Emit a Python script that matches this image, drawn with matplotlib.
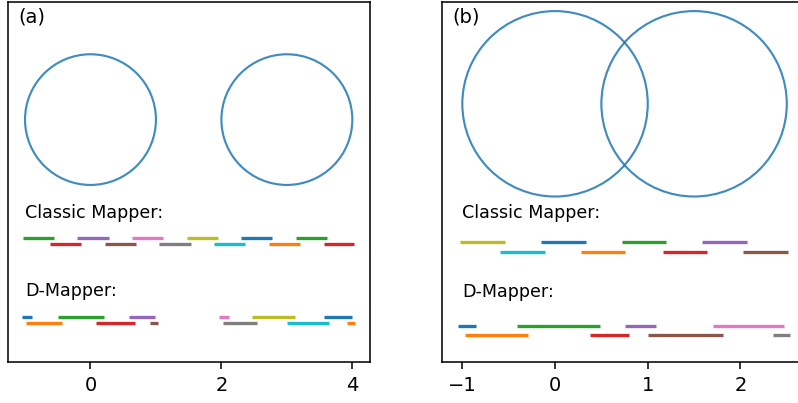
import matplotlib
matplotlib.use("Agg")
import matplotlib.pyplot as plt
from matplotlib.patches import Circle

# --- panel (a): two disjoint circles
a_centers = [(0.0, 0.0), (3.0, 0.0)]
a_radius = 1.0
a_classic_top = [(-1.03, -0.56), (-0.20, 0.28), (0.63, 1.11), (1.47, 1.95), (2.30, 2.78), (3.14, 3.61)]
a_classic_bot = [(-0.62, -0.14), (0.22, 0.70), (1.05, 1.53), (1.88, 2.36), (2.72, 3.20), (3.56, 4.03)]
a_classic_top_c = ["C2", "C4", "C6", "C8", "C0", "C2"]
a_classic_bot_c = ["C3", "C5", "C7", "C9", "C1", "C3"]
a_dm_top = [(-1.05, -0.89), (-0.49, 0.21), (0.59, 0.99), (1.96, 2.11), (2.46, 3.13), (3.56, 4.00)]
a_dm_bot = [(-0.98, -0.43), (0.09, 0.68), (0.91, 1.03), (2.03, 2.54), (3.00, 3.65), (3.92, 4.04)]
a_dm_top_c = ["C0", "C2", "C4", "C6", "C8", "C0"]
a_dm_bot_c = ["C1", "C3", "C5", "C7", "C9", "C1"]
a_rows = [-1.81, -1.91, -3.02, -3.12]
a_labels_y = [-1.43, -2.62]

# --- panel (b): two overlapping circles
b_centers = [(0.0, 0.0), (1.5, 0.0)]
b_radius = 1.0
b_classic_top = [(-1.02, -0.54), (-0.15, 0.33), (0.72, 1.20), (1.59, 2.07)]
b_classic_bot = [(-0.59, -0.11), (0.28, 0.76), (1.16, 1.64), (2.03, 2.51)]
b_classic_top_c = ["C8", "C0", "C2", "C4"]
b_classic_bot_c = ["C9", "C1", "C3", "C5"]
b_dm_top = [(-1.05, -0.85), (-0.41, 0.48), (0.75, 1.09), (1.70, 2.47)]
b_dm_bot = [(-0.97, -0.29), (0.38, 0.80), (1.00, 1.81), (2.35, 2.54)]
b_dm_top_c = ["C0", "C2", "C4", "C6"]
b_dm_bot_c = ["C1", "C3", "C5", "C7"]
b_rows = [-1.494, -1.595, -2.397, -2.494]
b_labels_y = [-1.18, -2.03]


def draw_segments(ax, segs, colors, y):
    for (lo, hi), c in zip(segs, colors):
        ax.plot([lo, hi], [y, y], color=c, lw=1.7, solid_capstyle="butt")


def draw_panel(ax, centers, r, rows, labels_y, groups, tag):
    for cx, cy in centers:
        ax.add_patch(Circle((cx, cy), r, fill=False, ec="C0", lw=1.1, alpha=0.85))
    for (segs, cols), y in zip(groups, rows):
        draw_segments(ax, segs, cols, y)
    ax.text(-1.0, labels_y[0], "Classic Mapper:", fontsize=9, va="center", ha="left")
    ax.text(-1.0, labels_y[1], "D-Mapper:", fontsize=9, va="center", ha="left")
    ax.text(0.028, 0.985, tag, transform=ax.transAxes, fontsize=10, va="top", ha="left")
    ax.set_yticks([])


W, H = 798, 403
fig = plt.figure(figsize=(W / 140, H / 140), dpi=140)

# axes boxes in pixels (left, right, top, bottom)
axa = fig.add_axes([8 / W, (H - 362) / H, 362 / W, 360 / H])
axb = fig.add_axes([442.3 / W, (H - 362) / H, 364.7 / W, 360 / H])

draw_panel(axa, a_centers, a_radius, a_rows, a_labels_y,
           [(a_classic_top, a_classic_top_c), (a_classic_bot, a_classic_bot_c),
            (a_dm_top, a_dm_top_c), (a_dm_bot, a_dm_bot_c)], "(a)")
axa.set_xlim(-1.26, 4.27)
axa.set_ylim(-3.71, 1.80)
axa.set_xticks([0, 2, 4])

draw_panel(axb, b_centers, b_radius, b_rows, b_labels_y,
           [(b_classic_top, b_classic_top_c), (b_classic_bot, b_classic_bot_c),
            (b_dm_top, b_dm_top_c), (b_dm_bot, b_dm_bot_c)], "(b)")
axb.set_xlim(-1.216, 2.718)
axb.set_ylim(-2.785, 1.098)
axb.set_xticks([-1, 0, 1, 2])

fig.savefig("out.png", dpi=140)
